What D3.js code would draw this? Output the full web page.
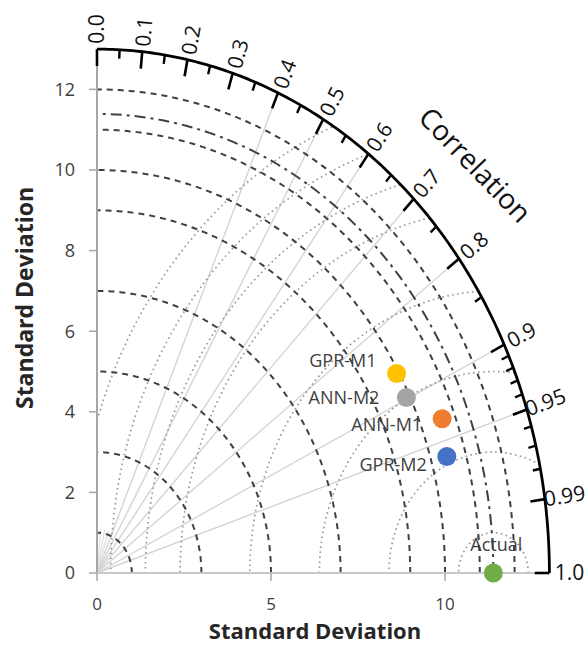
<!DOCTYPE html>
<html>
<head>
<meta charset="utf-8">
<script src="https://cdn.jsdelivr.net/npm/d3@7"></script>
<style>
body { margin: 0; background: #fff; }
svg { display: block; font-family: "Open Sans", sans-serif; }
</style>
</head>
<body>
<svg id="chart" width="587" height="649"></svg>
<script>
// taylor diagram data
var models = ["GPR-M1", "ANN-M2", "ANN-M1", "GPR-M2", "Actual"];
var modelSD = [9.93, 9.90, 10.63, 10.46, 11.39];
var modelCorr = [0.867, 0.898, 0.933, 0.961, 1.0];
var modelColors = ["#FFC000", "#A5A5A5", "#ED7D31", "#4472C4", "#70AD47"];

var sdCircles = [1, 3, 5, 7, 9, 10, 11, 12];
var rmsCircles = [1, 3, 5, 7, 9, 10, 11, 12];
var corrMajor = [0, 0.1, 0.2, 0.3, 0.4, 0.5, 0.6, 0.7, 0.8, 0.9, 0.95, 0.99, 1.0];
var corrLabels = ["0.0", "0.1", "0.2", "0.3", "0.4", "0.5", "0.6", "0.7", "0.8", "0.9", "0.95", "0.99", "1.0"];
var corrMinor = [0.05, 0.15, 0.25, 0.35, 0.45, 0.55, 0.65, 0.75, 0.85, 0.91, 0.92, 0.93, 0.94, 0.96, 0.97, 0.98];
var corrRays = [0.4, 0.5, 0.6, 0.7, 0.8, 0.9, 0.95];
var corrShortRays = [0.1, 0.2, 0.3];
var yTicks = [0, 2, 4, 6, 8, 10, 12];
var xTicks = [0, 5, 10];
var sdMax = 13;

// label offsets (px) for the model names
var labelDx = [-20, -27, -20, -20, 3];
var labelDy = [-13, 0, 6, 8, -28];

var svg = d3.select('#chart');
var x = d3.scaleLinear().domain([0, sdMax]).range([97, 97 + sdMax * 34.8]);
var y = d3.scaleLinear().domain([0, sdMax]).range([573, 573 - sdMax * 40.3]);

var line = d3.line().x(d => x(d[0])).y(d => y(d[1])).defined(d => d != null);

function arcPts(cx, r, steps){
	var pts = [];
	for (var i = 0; i <= steps; i++){
		var a = Math.PI * i / steps;
		var px = cx + r * Math.cos(a), py = r * Math.sin(a);
		if (px >= 0 && py >= 0 && px * px + py * py <= sdMax * sdMax + 1e-9) pts.push([px, py]);
		else pts.push(null);
	}
	return pts;
}
function polar(r, c){ return [r * c, r * Math.sqrt(Math.max(0, 1 - c * c))]; }

var refSD = modelSD[models.indexOf("Actual")];

// radial correlation lines
var g = svg.append('g');
g.selectAll('.ray').data(corrRays).enter().append('path')
	.attr('d', c => line([[0, 0], polar(sdMax, c)]))
	.attr('stroke', '#d4d4d4').attr('stroke-width', 1.4).attr('fill', 'none');
g.selectAll('.sray').data(corrShortRays).enter().append('path')
	.attr('d', c => line([[0, 0], polar(1.1, c)]))
	.attr('stroke', '#dedede').attr('stroke-width', 1.2).attr('fill', 'none');

// rmsd circles around the reference
g.selectAll('.rms').data(rmsCircles).enter().append('path')
	.attr('d', r => line(arcPts(refSD, r, 720)))
	.attr('stroke', '#999').attr('stroke-width', 1.7).attr('stroke-dasharray', '1.6,3.4')
	.attr('fill', 'none');

// std dev circles
g.selectAll('.sd').data(sdCircles).enter().append('path')
	.attr('d', r => line(arcPts(0, r, 360).filter((d, i) => i <= 180)))
	.attr('stroke', '#404040').attr('stroke-width', 2).attr('stroke-dasharray', '6,5')
	.attr('fill', 'none');
g.append('path')
	.attr('d', line(arcPts(0, refSD, 360).filter((d, i) => i <= 180)))
	.attr('stroke', '#404040').attr('stroke-width', 2).attr('stroke-dasharray', '11,5,3,5')
	.attr('fill', 'none');

// axes
var ax = svg.append('g');
ax.append('line').attr('x1', x(0)).attr('x2', x(0)).attr('y1', y(0)).attr('y2', y(sdMax))
	.attr('stroke', '#a6a6a6').attr('stroke-width', 2);
ax.append('line').attr('x1', x(0)).attr('x2', x(sdMax)).attr('y1', y(0)).attr('y2', y(0))
	.attr('stroke', '#c8c8c8').attr('stroke-width', 2);
ax.selectAll('.yt').data(yTicks).enter().append('line')
	.attr('x1', x(0) - 8).attr('x2', x(0)).attr('y1', d => y(d)).attr('y2', d => y(d))
	.attr('stroke', '#a6a6a6').attr('stroke-width', 1.5);
ax.selectAll('.ytl').data(yTicks).enter().append('text')
	.attr('x', 75).attr('y', d => y(d)).attr('dy', '0.35em')
	.attr('text-anchor', 'end').attr('font-size', 18).attr('fill', '#404040')
	.text(d => d);
ax.selectAll('.xt').data(xTicks).enter().append('line')
	.attr('x1', d => x(d)).attr('x2', d => x(d)).attr('y1', y(0)).attr('y2', y(0) + 8)
	.attr('stroke', '#a6a6a6').attr('stroke-width', 1.5);
ax.selectAll('.xtl').data(xTicks).enter().append('text')
	.attr('x', d => x(d)).attr('y', 610)
	.attr('text-anchor', 'middle').attr('font-size', 17).attr('fill', '#404040')
	.text(d => d);

svg.append('text').attr('x', 315).attr('y', 639).attr('text-anchor', 'middle')
	.attr('font-size', 22).attr('font-weight', 'bold').attr('fill', '#262626')
	.text('Standard Deviation');
svg.append('text').attr('transform', 'translate(33,298) rotate(-90)').attr('text-anchor', 'middle')
	.attr('font-size', 23).attr('font-weight', 'bold').attr('fill', '#262626')
	.text('Standard Deviation');

// outer correlation arc
var outer = d3.range(0, 181).map(i => polar(sdMax, Math.cos(Math.PI / 2 * i / 180)));
svg.append('path').attr('d', line(outer)).attr('stroke', '#000').attr('stroke-width', 2.8).attr('fill', 'none');

svg.selectAll('.maj').data(corrMajor).enter().append('path')
	.attr('d', c => line([polar(sdMax, c), polar(sdMax - 0.42, c)]))
	.attr('stroke', '#000').attr('stroke-width', 2.6);
svg.selectAll('.min').data(corrMinor).enter().append('path')
	.attr('d', c => line([polar(sdMax, c), polar(sdMax - 0.22, c)]))
	.attr('stroke', '#000').attr('stroke-width', 2.4);

function screenAngle(c){
	var p = polar(sdMax, c);
	return Math.atan2(y(p[1]) - y(0), x(p[0]) - x(0));
}
svg.selectAll('.cl').data(corrMajor).enter().append('text')
	.attr('transform', c => {
		var p = polar(sdMax, c), a = screenAngle(c);
		var cx = x(p[0]) + 20 * Math.cos(a), cy = y(p[1]) + 20 * Math.sin(a);
		return 'translate(' + cx + ',' + cy + ') rotate(' + (a * 180 / Math.PI) + ')';
	})
	.attr('dy', '0.35em').attr('text-anchor', 'middle').attr('font-size', 21).attr('fill', '#111')
	.text((c, i) => corrLabels[i]);

svg.append('text').attr('transform', 'translate(475,165) rotate(46)')
	.attr('text-anchor', 'middle').attr('dy', '0.35em')
	.attr('font-size', 28).attr('fill', '#111').text('Correlation');

// model points
var pts = models.map((m, i) => ({name: m, p: polar(modelSD[i], modelCorr[i]), color: modelColors[i], i: i}));
svg.selectAll('.pt').data(pts).enter().append('circle')
	.attr('cx', d => x(d.p[0])).attr('cy', d => y(d.p[1])).attr('r', 9.5)
	.attr('fill', d => d.color);
svg.selectAll('.ptl').data(pts).enter().append('text')
	.attr('x', d => x(d.p[0]) + labelDx[d.i]).attr('y', d => y(d.p[1]) + labelDy[d.i])
	.attr('dy', '0.35em').attr('text-anchor', d => d.name === 'Actual' ? 'middle' : 'end')
	.attr('font-size', 18).attr('fill', '#404040')
	.text(d => d.name);
</script>
</body>
</html>
